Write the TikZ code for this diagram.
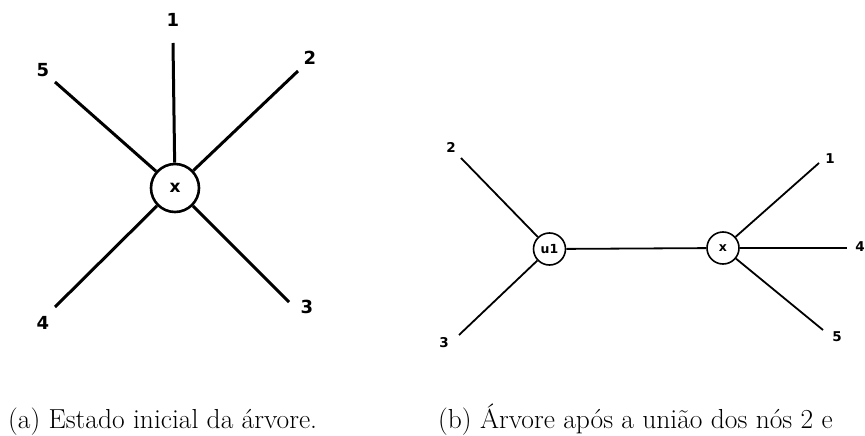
\documentclass[tikz,border=0pt]{standalone}
\usepackage{fontspec}
\newfontfamily\lblfont{DejaVu Sans}
\begin{document}
\begin{tikzpicture}[x=1pt,y=-1pt,
  bigleaf/.style={font=\lblfont\bfseries\fontsize{18}{18}\selectfont, inner sep=0pt},
  smallleaf/.style={font=\lblfont\bfseries\fontsize{13.5}{13.5}\selectfont, inner sep=0pt},
  bignode/.style={circle, draw, line width=2.6pt, minimum size=48pt, inner sep=0pt,
                  font=\lblfont\bfseries\fontsize{17}{17}\selectfont},
  smallnode/.style={circle, draw, line width=1.6pt, minimum size=32pt, inner sep=0pt,
                  font=\lblfont\bfseries\fontsize{12.5}{12.5}\selectfont},
  bigedge/.style={line width=3pt},
  smalledge/.style={line width=1.8pt},
  caption/.style={font=\fontsize{27.5}{30}\selectfont, anchor=base west, inner sep=0pt}]
\useasboundingbox (0,0) rectangle (865,436);

% (a) initial star tree
\node[bignode] (x) at (175,188) {x};
\coordinate (e1) at (173,43);
\coordinate (e2) at (298,71);
\coordinate (e3) at (289,302);
\coordinate (e4) at (55,307);
\coordinate (e5) at (55,82);
\foreach \i in {1,...,5} \draw[bigedge] (x) -- (e\i);
\node[bigleaf] (l1) at (173,20) {1};
\node[bigleaf] (l2) at (310,58) {2};
\node[bigleaf] (l3) at (307,307) {3};
\node[bigleaf] (l4) at (43,323) {4};
\node[bigleaf] (l5) at (43,70) {5};

% (b) tree after joining 2 and 3
\node[smallnode] (u1) at (549.5,249) {u1};
\node[smallnode] (y) at (723,248) {x};
\draw[smalledge] (u1) -- (y);
\coordinate (f2) at (461,158);
\coordinate (f3) at (459,335);
\coordinate (f1) at (819,163);
\coordinate (f4) at (847,248);
\coordinate (f5) at (823,330);
\draw[smalledge] (u1) -- (f2);
\draw[smalledge] (u1) -- (f3);
\draw[smalledge] (y) -- (f1);
\draw[smalledge] (y) -- (f4);
\draw[smalledge] (y) -- (f5);
\node[smallleaf] (m2) at (451,147) {2};
\node[smallleaf] (m3) at (444,343) {3};
\node[smallleaf] (m1) at (830,159) {1};
\node[smallleaf] (m4) at (860,247) {4};
\node[smallleaf] (m5) at (837,337) {5};

% captions
\node[caption] (capa) at (8,428) {(a) Estado inicial da árvore.};
\node[caption] (capb) at (438,428) {(b) Árvore após a união dos nós 2 e};
\end{tikzpicture}
\end{document}
